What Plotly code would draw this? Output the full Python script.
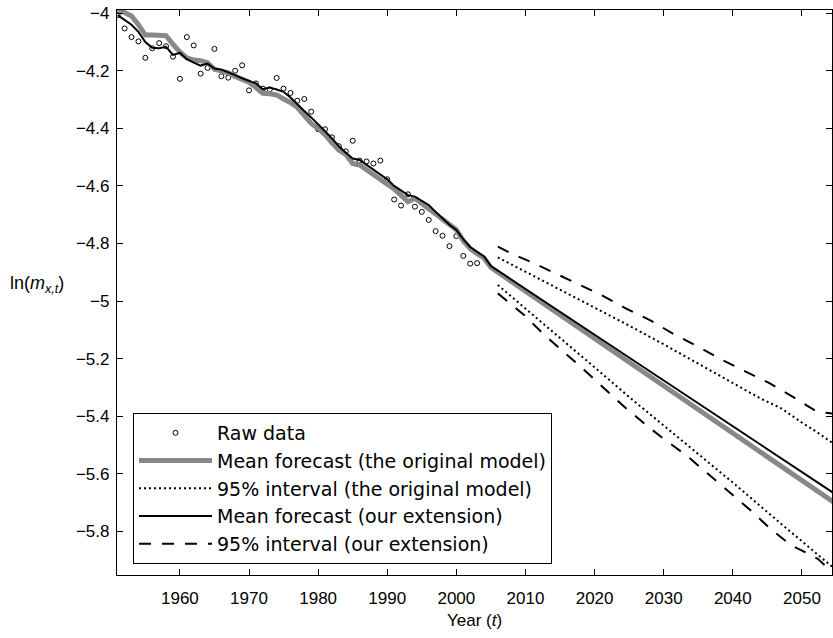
import plotly.graph_objects as go

# ---------------- data ----------------
raw_years = list(range(1951, 2004))
raw_vals = [-4.007, -4.053, -4.083, -4.098, -4.155, -4.122, -4.104, -4.115, -4.151, -4.228,
            -4.083, -4.112, -4.210, -4.190, -4.124, -4.219, -4.224, -4.200, -4.181, -4.268,
            -4.244, -4.262, -4.265, -4.225, -4.262, -4.277, -4.304, -4.298, -4.342, -4.403,
            -4.403, -4.431, -4.462, -4.480, -4.443, -4.512, -4.515, -4.522, -4.512, -4.577,
            -4.647, -4.668, -4.629, -4.672, -4.690, -4.718, -4.757, -4.773, -4.809, -4.774,
            -4.843, -4.870, -4.868]

fit_years = list(range(1951, 2006)) + [2055]
orig_mean = [-3.986, -3.998, -4.010, -4.040, -4.076, -4.076, -4.076, -4.078, -4.108, -4.135,
             -4.155, -4.163, -4.165, -4.172, -4.195, -4.200, -4.207, -4.220, -4.232, -4.240,
             -4.258, -4.278, -4.280, -4.284, -4.298, -4.310, -4.328, -4.355, -4.383, -4.400,
             -4.422, -4.450, -4.475, -4.490, -4.522, -4.527, -4.545, -4.560, -4.578, -4.594,
             -4.610, -4.632, -4.655, -4.643, -4.660, -4.676, -4.697, -4.716, -4.735, -4.752,
             -4.790, -4.818, -4.835, -4.850, -4.883, -5.705]
ext_mean = [-4.007, -4.022, -4.040, -4.065, -4.100, -4.120, -4.122, -4.117, -4.145, -4.138,
            -4.160, -4.172, -4.182, -4.175, -4.192, -4.196, -4.205, -4.215, -4.226, -4.236,
            -4.244, -4.264, -4.258, -4.265, -4.273, -4.293, -4.318, -4.340, -4.362, -4.385,
            -4.410, -4.435, -4.462, -4.485, -4.505, -4.510, -4.527, -4.545, -4.560, -4.577,
            -4.600, -4.616, -4.632, -4.637, -4.652, -4.666, -4.690, -4.712, -4.735, -4.753,
            -4.785, -4.812, -4.830, -4.845, -4.878, -5.673]

orig_up_years = [2006, 2010, 2015, 2020, 2025, 2030, 2035, 2040, 2044, 2047, 2050, 2052, 2055]
orig_up_vals = [-4.848, -4.898, -4.960, -5.022, -5.085, -5.150, -5.218, -5.285, -5.338,
                -5.372, -5.422, -5.452, -5.502]
orig_lo_years = [2006, 2010, 2015, 2020, 2025, 2030, 2035, 2040, 2045, 2050, 2052, 2055]
orig_lo_vals = [-4.944, -5.025, -5.128, -5.230, -5.333, -5.432, -5.528, -5.630, -5.733,
                -5.833, -5.872, -5.935]

ext_up_years = [2006, 2008, 2011, 2014, 2017.5, 2021, 2024.5, 2028, 2031.5, 2035, 2038.5,
                2042, 2045.3, 2049, 2051.8, 2053.2, 2055]
ext_up_vals = [-4.811, -4.835, -4.866, -4.900, -4.938, -4.979, -5.025, -5.066, -5.115,
               -5.158, -5.205, -5.245, -5.285, -5.337, -5.378, -5.387, -5.392]
ext_lo_years = [2006, 2009.8, 2012.5, 2015.6, 2018.5, 2021.4, 2024.3, 2027.2, 2029.6,
                2033.5, 2036.8, 2039.7, 2042.6, 2045.5, 2048.4, 2051.3, 2052.3, 2055]
ext_lo_vals = [-4.973, -5.048, -5.112, -5.176, -5.239, -5.303, -5.367, -5.425, -5.471,
               -5.540, -5.608, -5.667, -5.727, -5.792, -5.847, -5.882, -5.895, -5.955]

x_ticks = list(range(1960, 2051, 10))

# ---------------- figure ----------------
GRAY = "#888888"
fig = go.Figure()

fig.add_trace(go.Scatter(x=raw_years, y=raw_vals, mode="markers", name="Raw data",
                         marker=dict(symbol="circle-open", size=5, color="black",
                                     line=dict(width=1, color="black"))))
fig.add_trace(go.Scatter(x=fit_years, y=orig_mean, mode="lines",
                         name="Mean forecast (the original model)",
                         line=dict(color=GRAY, width=5)))
fig.add_trace(go.Scatter(x=orig_up_years, y=orig_up_vals, mode="lines",
                         name="95% interval (the original model)",
                         line=dict(color="black", width=2, dash="2px,3px")))
fig.add_trace(go.Scatter(x=orig_lo_years, y=orig_lo_vals, mode="lines",
                         showlegend=False,
                         line=dict(color="black", width=2, dash="2px,3px")))
fig.add_trace(go.Scatter(x=fit_years, y=ext_mean, mode="lines",
                         name="Mean forecast (our extension)",
                         line=dict(color="black", width=2)))
fig.add_trace(go.Scatter(x=ext_up_years, y=ext_up_vals, mode="lines",
                         name="95% interval (our extension)",
                         line=dict(color="black", width=2, dash="12px,11px")))
fig.add_trace(go.Scatter(x=ext_lo_years, y=ext_lo_vals, mode="lines",
                         showlegend=False,
                         line=dict(color="black", width=2, dash="12px,11px")))

axis_common = dict(showline=True, linecolor="black", linewidth=1.3, mirror="ticks",
                   ticks="inside", ticklen=6, tickwidth=1, tickcolor="black",
                   showgrid=False, zeroline=False, tickfont=dict(size=17, color="black"))

fig.update_xaxes(range=[1950.9, 2054.35], tickvals=x_ticks, ticklabelstandoff=7,
                 **axis_common)
fig.update_yaxes(range=[-5.951, -3.989], tick0=-4, dtick=0.2, ticklabelstandoff=3,
                 **axis_common)

fig.update_layout(
    width=833, height=638,
    margin=dict(l=117, r=1, t=10, b=63),
    plot_bgcolor="white", paper_bgcolor="white",
    font=dict(family="Liberation Sans, Arial, sans-serif", color="black", size=16),
    legend=dict(x=0.0224, y=0.0195, xanchor="left", yanchor="bottom",
                bordercolor="black", borderwidth=1, bgcolor="white",
                font=dict(size=19, family="DejaVu Sans, Liberation Sans, sans-serif"),
                itemwidth=73),
    annotations=[
        dict(text="Year (<i>t</i>)", xref="paper", yref="paper", x=0.5, y=-0.08,
             xanchor="center", yanchor="middle", showarrow=False, font=dict(size=17)),
        dict(text="ln(<i>m</i><sub><i>x,t</i></sub>)", xref="paper", yref="paper",
             x=-0.1524, y=0.515, xanchor="left", yanchor="middle", showarrow=False,
             font=dict(size=18)),
    ],
)

fig.write_html("out.html")
